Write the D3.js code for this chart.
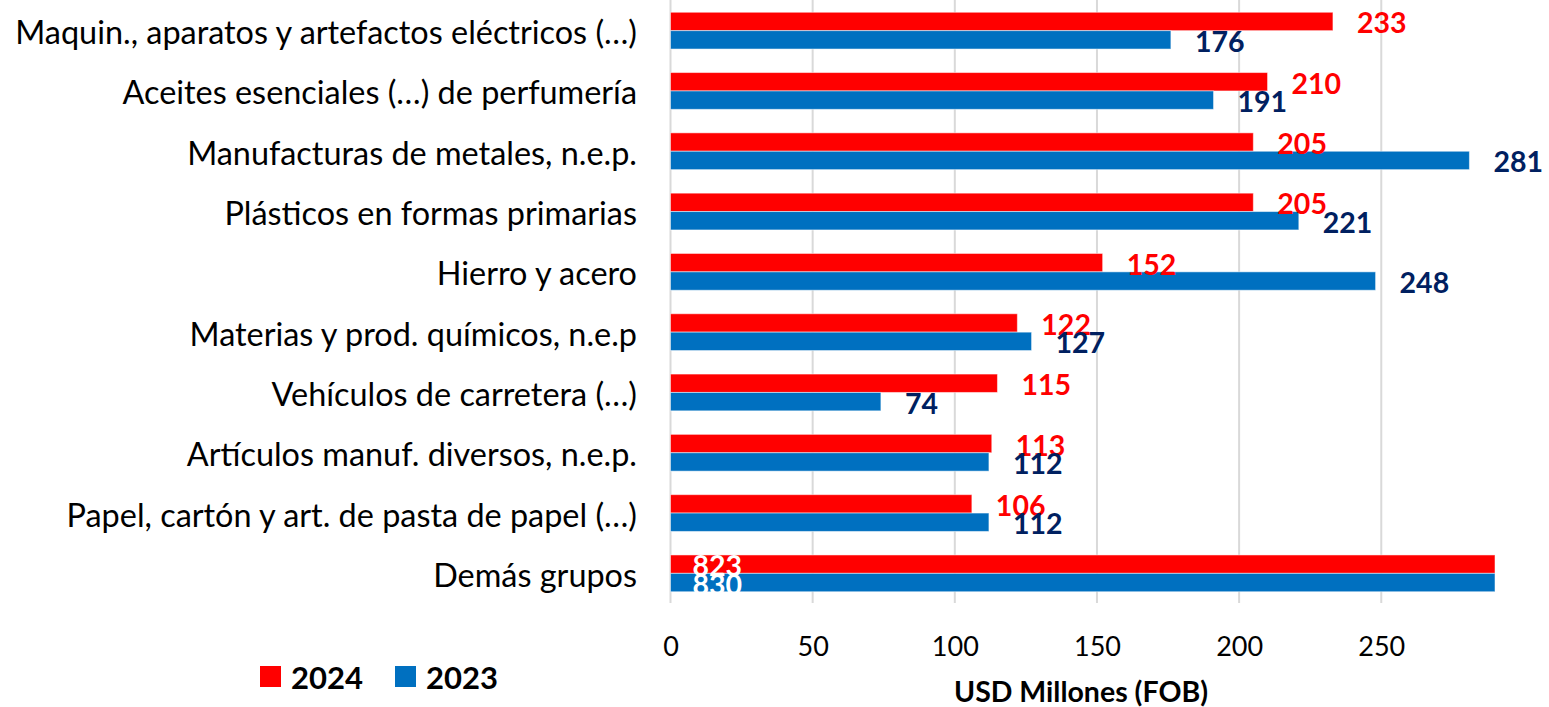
<!DOCTYPE html>
<html><head><meta charset="utf-8">
<script src="https://cdn.jsdelivr.net/npm/d3@7"></script>
<style>
html,body{margin:0;padding:0;background:#fff;}
svg{display:block;font-family:Lato,"Open Sans",sans-serif;}
</style></head>
<body>
<svg id="chart" width="1549" height="707"></svg>
<script>
const categories = [
  "Maquin., aparatos y artefactos eléctricos (…)",
  "Aceites esenciales (…) de perfumería",
  "Manufacturas de metales, n.e.p.",
  "Plásticos en formas primarias",
  "Hierro y acero",
  "Materias y prod. químicos, n.e.p",
  "Vehículos de carretera (…)",
  "Artículos manuf. diversos, n.e.p.",
  "Papel, cartón y art. de pasta de papel (…)",
  "Demás grupos"
];
const series = ["2024", "2023"];
const values2024 = [233, 210, 205, 205, 152, 122, 115, 113, 106, 823];
const values2023 = [176, 191, 281, 221, 248, 127, 74, 112, 112, 830];
const xTicks = [0, 50, 100, 150, 200, 250];
const xMax = 290;
const axisTitle = "USD Millones (FOB)";

const colors = {"2024": "#FF0000", "2023": "#0070C0"};
const labelColors = {"2024": "#FF0000", "2023": "#002060"};

const data = categories.map((c, i) => ({cat: c, vals: {"2024": values2024[i], "2023": values2023[i]}}));

const svg = d3.select("#chart");
const x = d3.scaleLinear().domain([0, xMax]).range([670.5, 1495]).clamp(true);
const y = d3.scaleBand().domain(categories).range([0.5, 603.5]).paddingInner(0.39).paddingOuter(0.195);
const ys = d3.scaleBand().domain(series).range([0, y.bandwidth()]);

// gridlines
svg.append("g").selectAll("line").data(xTicks).join("line")
  .attr("x1", d => x(d)).attr("x2", d => x(d))
  .attr("y1", 0).attr("y2", 603)
  .attr("stroke", "#d9d9d9").attr("stroke-width", 2);

// bars
const groups = svg.append("g").selectAll("g").data(data).join("g")
  .attr("transform", d => `translate(0,${y(d.cat)})`);

groups.selectAll("rect").data(d => series.map(s => ({s, v: d.vals[s]}))).join("rect")
  .attr("x", x(0))
  .attr("y", d => ys(d.s))
  .attr("width", d => x(d.v) - x(0))
  .attr("height", ys.bandwidth())
  .attr("fill", d => colors[d.s])
  .attr("stroke", "rgba(255,255,255,0.5)").attr("stroke-width", 1);

groups.selectAll("text").data(d => series.map(s => ({s, v: d.vals[s]}))).join("text")
  .attr("x", d => d.v > xMax ? x(0) + 22 : x(d.v) + 24)
  .attr("y", d => ys(d.s) + ys.bandwidth() / 2 + 1)
  .attr("dominant-baseline", "central")
  .attr("font-size", 28.5).attr("font-weight", "bold")
  .attr("fill", d => d.v > xMax ? "#fff" : labelColors[d.s])
  .text(d => d.v);

// category labels
const catG = svg.append("g");
const catTexts = catG.selectAll("text").data(categories).join("text")
  .attr("x", 637)
  .attr("y", d => y(d) + y.bandwidth() / 2 + 1)
  .attr("text-anchor", "end")
  .attr("dominant-baseline", "central")
  .attr("font-size", 27)
  .attr("fill", "#000")
  .text(d => d);
// fit font size so longest label spans ~622px
let maxW = 0;
catTexts.each(function(){ maxW = Math.max(maxW, this.getComputedTextLength()); });
const fs = 27 * 622 / maxW;
catTexts.attr("font-size", fs);

// x axis
const axis = d3.axisBottom(x).tickValues(xTicks).tickSize(0).tickPadding(0).tickFormat(d3.format("d"));
const ax = svg.append("g").attr("transform", "translate(0,645)").call(axis);
ax.select(".domain").remove();
ax.selectAll("text").attr("font-size", 27).attr("font-family", "Lato, sans-serif")
  .attr("fill", "#000").attr("dy", null).attr("y", 0).attr("dominant-baseline", "central");

svg.append("text").attr("x", 1081).attr("y", 691)
  .attr("text-anchor", "middle").attr("dominant-baseline", "central")
  .attr("font-size", 28.5).attr("font-weight", "bold").text(axisTitle);

// legend
const legendItems = [{s: "2024", x: 260}, {s: "2023", x: 395}];
const lg = svg.append("g").selectAll("g").data(legendItems).join("g")
  .attr("transform", d => `translate(${d.x},666)`);
lg.append("rect").attr("width", 21).attr("height", 21).attr("fill", d => colors[d.s]);
lg.append("text").attr("x", 31).attr("y", 11).attr("dominant-baseline", "central")
  .attr("font-size", 31).attr("font-weight", "bold").text(d => d.s);
</script>
</body></html>
